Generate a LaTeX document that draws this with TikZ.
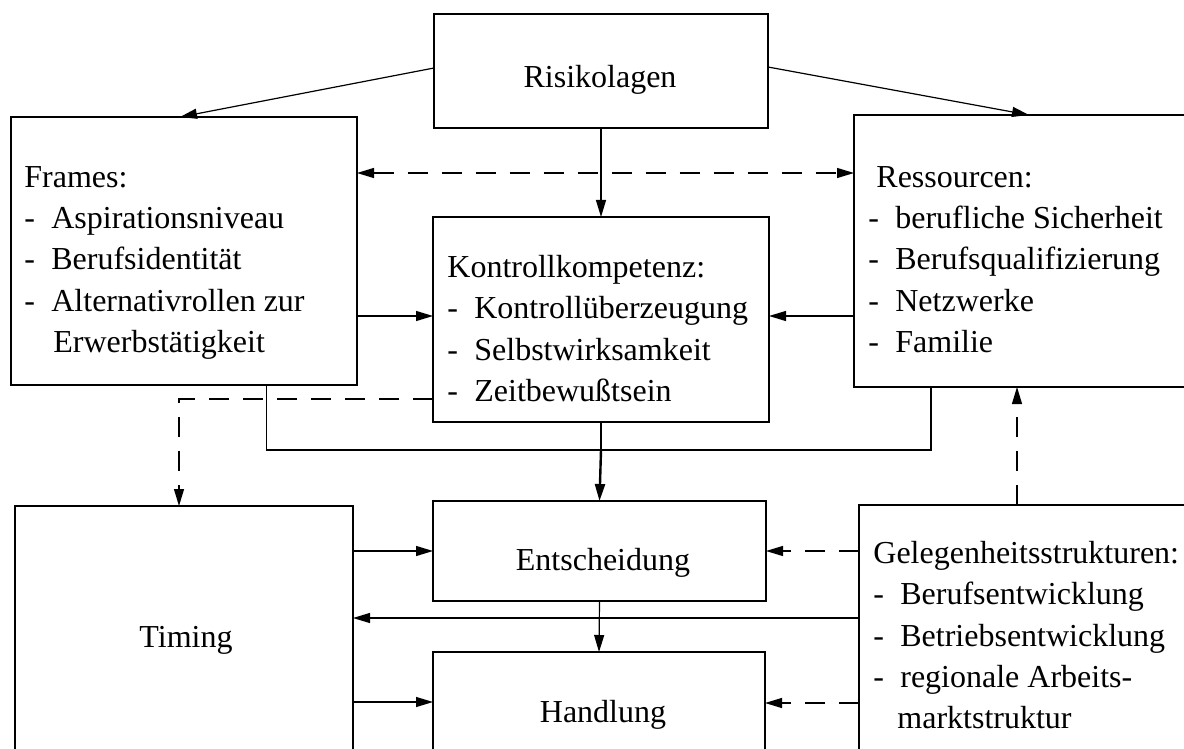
\documentclass[tikz,border=0pt]{standalone}
\usepackage{fontspec}
\setmainfont{Liberation Serif}
\usetikzlibrary{arrows.meta,calc}
\newcommand{\li}{\makebox[13.5pt][l]{-}}

\begin{document}
\begin{tikzpicture}[x=0.5pt,y=-0.5pt,
      box/.style={draw,line width=0.6pt,inner sep=0pt,outer sep=0pt},
      lbl/.style={font=\fontsize{16}{20.65}\selectfont,inner sep=0pt},
      list/.style={lbl,align=left,anchor=north west},
      arr/.style={line width=0.6pt,-{Triangle[length=8.5pt,width=5pt]}},
      dsh/.style={line width=0.6pt,dash pattern=on 10pt off 7pt}]
    \useasboundingbox (0,0) rectangle (1184,749);
    \clip (0,0) rectangle (1184,749);
    % boxes
    \node[box,minimum width=167pt,minimum height=57pt]   (risk)   at (601,71) {};
    \node[box,minimum width=173pt,minimum height=134pt]  (frames) at (184,251) {};
    \node[box,minimum width=168pt,minimum height=102.5pt](kk)     at (601,319.5) {};
    \node[box,minimum width=198pt,minimum height=136pt]  (res)    at (1052,251) {};
    \node[box,minimum width=166.5pt,minimum height=50pt] (ent)    at (599.5,551) {};
    \node[box,minimum width=166pt,minimum height=74pt]   (hand)   at (599,726) {};
    \node[box,minimum width=169pt,minimum height=147pt]  (timing) at (184,653) {};
    \node[box,minimum width=196pt,minimum height=148pt]  (gel)    at (1055,653) {};
    % texts
    \node[lbl,anchor=base] (risk-t) at (600,88) {Risikolagen};
    \node[list] (frames-t) at (24,166) {Frames:\\\li Aspirationsniveau\\\li Berufsidentität\\\li Alternativrollen zur\\\hspace*{14.5pt}Erwerbstätigkeit};
    \node[list] (kk-t) at (447,255) {Kontrollkompetenz:\\\li Kontrollüberzeugung\\\li Selbstwirksamkeit\\\li Zeitbewußtsein};
    \node[list] (res-t) at (868,166) {\hspace*{4pt}Ressourcen:\\\li berufliche Sicherheit\\\li Berufsqualifizierung\\\li Netzwerke\\\li Familie};
    \node[list] (gel-t) at (873,541) {Gelegenheitsstrukturen:\\\li Berufsentwicklung\\\li Betriebsentwicklung\\\li regionale Arbeits-\\\hspace*{12pt}marktstruktur};
    \node[lbl,anchor=base] (ent-t) at (603,570) {Entscheidung};
    \node[lbl,anchor=base] (hand-t) at (603,722) {Handlung};
    \node[lbl,anchor=base] (timing-t) at (186,647) {Timing};
    % solid connectors
    \draw[arr] ($(risk.west)+(0,-3)$) -- ($(frames.north)+(-4,0)$);
    \draw[arr] ($(risk.east)+(0,-4)$) -- ($(res.north west)+(175,0)$);
    \draw[arr] (risk.south) -- (kk.north);
    \draw[arr] ($(frames.east)+(0,65)$) coordinate (a) -- (a -| kk.west);
    \draw[arr] ($(res.west)+(0,65)$) coordinate (b) -- (b -| kk.east);
    \coordinate (jn) at ($(kk.south)+(0,28)$);
    \draw[line width=0.6pt] ($(frames.south west)+(255.5,0)$) |- (jn) -| ($(res.south west)+(77,0)$);
    \draw[line width=0.6pt] (kk.south) -- (jn);
    \draw[arr,line width=1.2pt] (jn) -- (ent.north);
    \draw[arr] (timing.east |- ent.west) -- (ent.west);
    \draw[arr] (ent.south) -- (hand.north);
    \draw[arr] ($(gel.west)+(0,-35)$) coordinate (d) -- (d -| timing.east);
    \draw[arr] ($(timing.east)+(0,49)$) coordinate (e) -- (e -| hand.west);
    % dashed connectors
    \draw[arr,dsh,{Triangle[length=8.5pt,width=5pt]}-{Triangle[length=8.5pt,width=5pt]}]
      ($(frames.east)+(0,-78)$) coordinate (c) -- (c -| res.west);
    \draw[arr,dsh] ($(kk.west)+(0,79.5)$) -| ($(timing.north)+(-5,0)$);
    \draw[arr,dsh] (gel.west |- ent.east) -- (ent.east);
    \draw[arr,dsh] ($(gel.west)+(0,50)$) coordinate (f) -- (f -| hand.east);
    \draw[arr,dsh] ($(gel.north west)+(158,0)$) coordinate (g) -- (g |- res.south);
  \end{tikzpicture}
\end{document}
